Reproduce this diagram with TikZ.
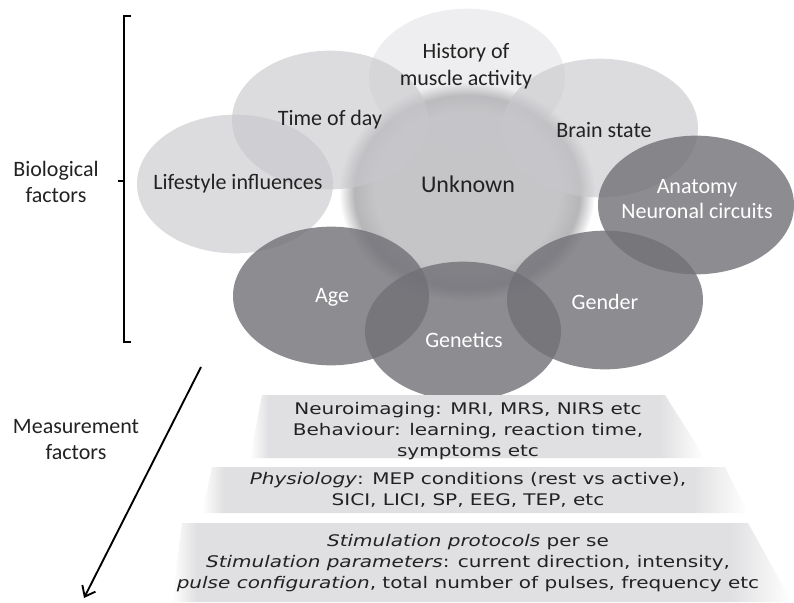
\documentclass[tikz,border=0pt]{standalone}
\usepackage{fontspec}
\setmainfont{Carlito}
\newfontfamily\bandfont[FakeStretch=1.25]{DejaVu Sans}
\usetikzlibrary{shapes.geometric,arrows.meta}
\definecolor{lightoval}{RGB}{200,200,204}
\definecolor{darkoval}{RGB}{112,112,118}
\definecolor{ukgray}{RGB}{197,197,200}
\definecolor{ukrim}{RGB}{182,182,185}
\definecolor{bandgray}{RGB}{224,224,226}
\definecolor{labeltext}{RGB}{34,34,34}
\pgfdeclareradialshading{unknownshade}{\pgfpoint{0bp}{0bp}}{color(0bp)=(ukgray); color(18bp)=(ukgray); color(22bp)=(ukrim); color(25bp)=(white); color(50bp)=(white)}
\pgfdeclarehorizontalshading{bandshade}{100bp}{color(0bp)=(white); color(25bp)=(white); color(27bp)=(bandgray); color(70bp)=(bandgray); color(75bp)=(white); color(100bp)=(white)}
\tikzset{%
	oval/.style      = {ellipse, minimum width=147pt, minimum height=104pt, inner sep=0pt},
	light/.style     = {oval, fill=lightoval, fill opacity=0.64}, % light factor
	faint/.style     = {oval, fill=lightoval, fill opacity=0.3},
	dark/.style      = {oval, fill=darkoval, fill opacity=0.8}, % dark factor
	lightlabel/.style= {text=labeltext, align=center, font=\fontsize{16.5}{20}\selectfont},
	darklabel/.style = {text=white, align=center, font=\fontsize{16.5}{19}\selectfont},
	band/.style      = {shading=bandshade},
	bandtext/.style  = {text=labeltext, align=center, font=\bandfont\fontsize{12}{16}\selectfont},
	side/.style      = {text=labeltext, align=center, font=\fontsize{16.5}{19.5}\selectfont}
}
\begin{document}
\begin{tikzpicture}[x=0.75pt,y=-0.75pt]
	\useasboundingbox (0,0) rectangle (794,603);
	
	% centre
	\node[oval, minimum width=192pt, minimum height=165pt, shading=unknownshade] at (467,192) (unknown) {};
	
	% biological factors
	\node[faint] at (467,78) (history) {};
	\node[light] at (330,120) (time) {};
	\node[light] at (600,128) (brain) {};
	\node[light] at (235,184) (lifestyle) {};
	\node[dark] at (696,205) (anatomy) {};
	\node[dark] at (605,300) (gender) {};
	\node[dark] at (331,296) (age) {};
	\node[dark] at (463,331) (genetics) {};
	
	\node[lightlabel] at (466,66) (historytxt) {History of\\muscle activity};
	\node[lightlabel] at (330,120) (timetxt) {Time of day};
	\node[lightlabel] at (604,130) (braintxt) {Brain state};
	\node[lightlabel] at (238,184) (lifestyletxt) {Lifestyle influences};
	\node[lightlabel, font=\fontsize{18}{20}\selectfont] at (468,184) (unknowntxt) {Unknown};
	\node[darklabel] at (697,199) (anatomytxt) {Anatomy\\Neuronal circuits};
	\node[darklabel] at (605,302) (gendertxt) {Gender};
	\node[darklabel] at (332,297) (agetxt) {Age};
	\node[darklabel] at (464,340) (geneticstxt) {Genetics};
	
	% measurement factors
	\path[band] (262,395) -- (665,395) -- (705,458) -- (250,458) -- cycle;
	\path[band] (212,467) -- (725,467) -- (748,513) -- (202,513) -- cycle;
	\path[band] (182,523) -- (748,523) -- (792,602) -- (172,602) -- cycle;
	
	\node[bandtext] at (468,431) (imaging) {Neuroimaging: MRI, MRS, NIRS etc\\Behaviour: learning, reaction time,\\symptoms etc};
	\node[bandtext] at (468,490) (physiology) {\textit{Physiology}: MEP conditions (rest vs active),\\SICI, LICI, SP, EEG, TEP, etc};
	\node[bandtext] at (468,563) (protocols) {\textit{Stimulation protocols} per se\\\textit{Stimulation parameters}: current direction, intensity,\\\textit{pulse configuration}, total number of pulses, frequency etc};
	
	% bracket and arrow
	\coordinate (brtop) at (124,16);
	\coordinate (brbot) at (124,342);
	\coordinate (brmid) at (124,181);
	\draw[line width=1.4pt] ([xshift=5pt]brtop) -- (brtop) -- (brbot) -- ([xshift=5pt]brbot);
	\draw[line width=1.4pt] (brmid) -- ++(-6,0);
	\node[side] at (56,182) (biological) {Biological\\factors};
	
	\coordinate (arrstart) at (201,367);
	\coordinate (arrtip) at (84,598);
	\draw[line width=1.4pt, -{Straight Barb[length=7pt,width=11pt]}] (arrstart) -- (arrtip);
	\node[side] at (76,440) (measurement) {Measurement\\factors};
	
\end{tikzpicture}
\end{document}
